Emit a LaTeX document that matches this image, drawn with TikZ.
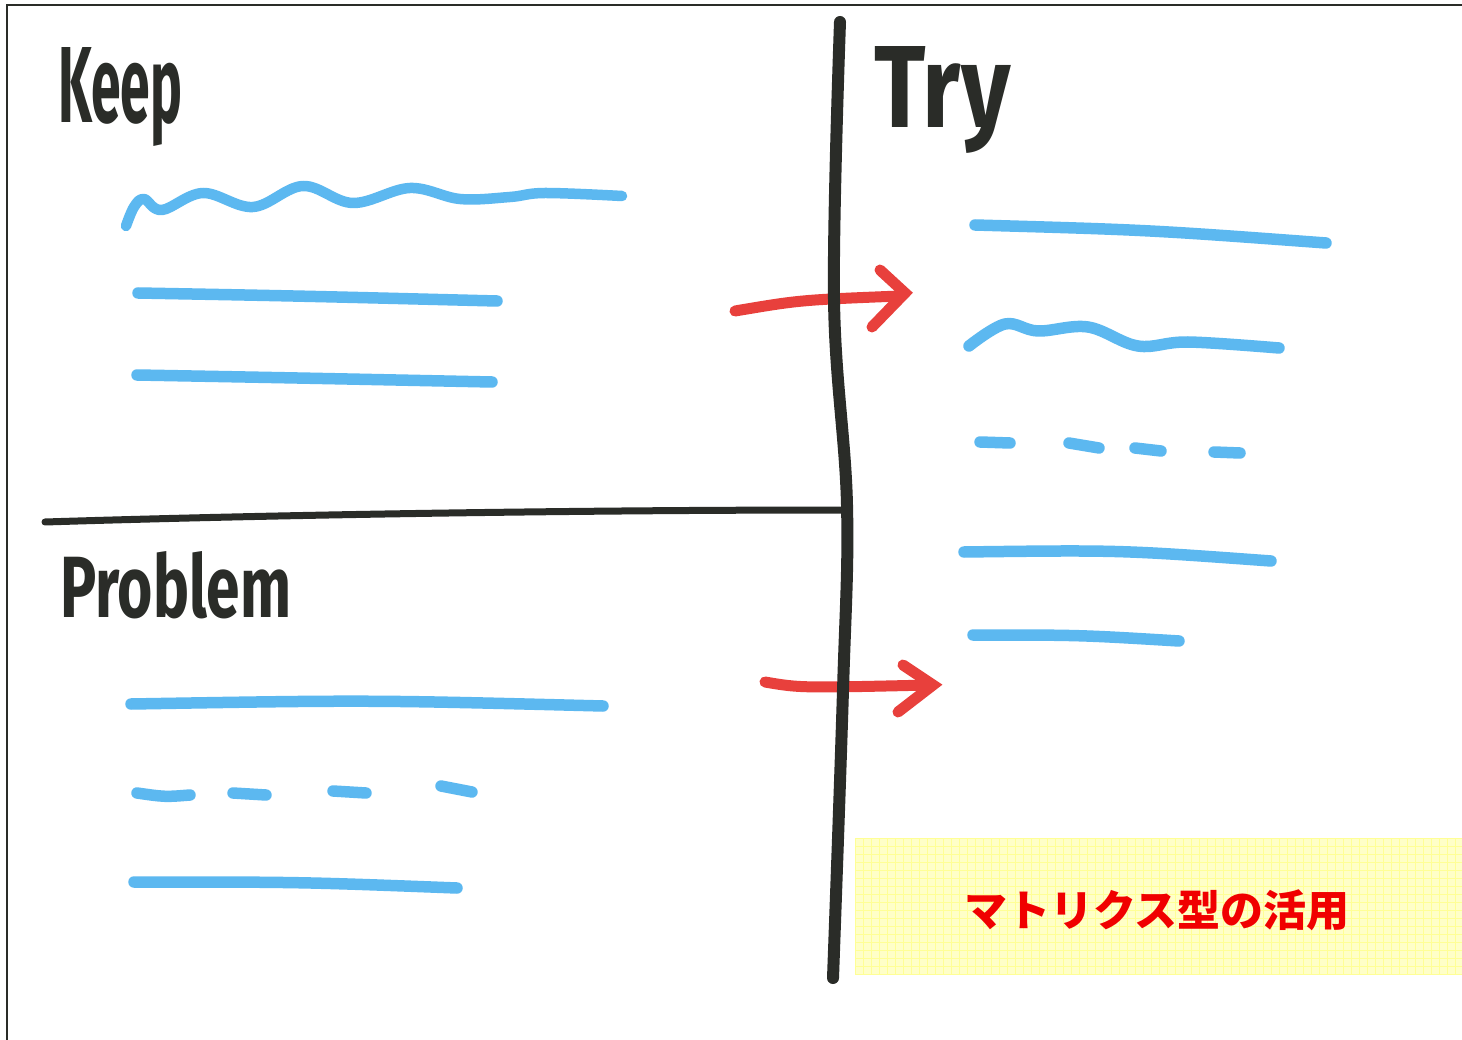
\documentclass[tikz,border=0pt]{standalone}
\usepackage{fontspec}
\usepackage{graphicx}
\newfontfamily\handfont{Fira Sans}
\newfontfamily\cjkfont{Noto Sans CJK JP}
\definecolor{ink}{RGB}{42,44,40}
\definecolor{marker}{RGB}{92,184,240}
\definecolor{redmark}{RGB}{232,64,60}
\definecolor{notefill}{RGB}{255,255,200}
\definecolor{notegrid}{RGB}{255,255,150}
\definecolor{jred}{RGB}{240,0,0}
\tikzset{
  frameline/.style={draw=ink, line width=2pt},
  divider/.style={draw=ink, line width=12pt, line cap=round, line join=round},
  hdivider/.style={draw=ink, line width=7pt, line cap=round},
  blueline/.style={draw=marker, line width=11.5pt, line cap=round, line join=round},
  bluedash/.style={draw=marker, line width=11.5pt, line cap=round},
  redarrow/.style={draw=redmark, line width=11pt, line cap=round, line join=miter},
  heading/.style={inner sep=0pt, anchor=north west, text=ink},
}
\begin{document}
\begin{tikzpicture}[x=1pt, y=-1pt]
\useasboundingbox (0,0) rectangle (1462,1040);
\fill[white] (0,0) rectangle (1462,1040);
% frame
\draw[frameline] (7,1040) -- (7,5) -- (1462,5);
% yellow note
\fill[notefill] (855,838) rectangle (1462,975);
\begin{scope}
\clip (855,838) rectangle (1462,975);
\foreach \gx in {855,863,...,1462} {\draw[notegrid, line width=0.6pt] (\gx,838) -- (\gx,975);}
\foreach \gy in {838,846,...,975} {\draw[notegrid, line width=0.6pt] (855,\gy) -- (1462,\gy);}
\end{scope}
\node[text=jred, inner sep=0pt] (note) at (1157,910) {\cjkfont\bfseries\fontsize{43}{43}\selectfont マトリクス型の活用};
% headings
\node[heading] (keep) at (58,47) {\resizebox{124pt}{75pt}{\handfont\bfseries Keep}};
\node[heading] (try) at (874,46) {\resizebox{136pt}{81pt}{\handfont\bfseries Try}};
\node[heading] (problem) at (60,551) {\resizebox{231pt}{66pt}{\handfont\bfseries Problem}};
% red arrows (under the black divider)
\draw[redarrow] (735,311) .. controls (800,300) .. (900,296);
\draw[redarrow] (880,270) -- (905,293) -- (872,327);
\draw[redarrow] (765,682) .. controls (800,688) .. (930,685);
\draw[redarrow] (903,665) -- (933,685) -- (898,712);
% dividers
\draw[hdivider] (45,522) .. controls (300,514) and (600,510) .. (845,510);
\draw[divider] plot[smooth, tension=0.6] coordinates {(840,22) (834,300) (847,505) (843,690) (833,978)};
% Keep items
\draw[blueline, line width=10.5pt] plot[smooth, tension=0.6] coordinates {(126,226) (134,207) (144,199) (162,210) (203,193) (253,207) (303,186) (353,203) (410,188) (460,199) (510,197) (545,193) (622,196)};
\draw[blueline] (138,293) .. controls (300,296) .. (497,301);
\draw[blueline] (137,375) .. controls (300,378) .. (492,382);
% Try items
\draw[blueline] (975,225) .. controls (1150,230) .. (1326,243);
\draw[blueline] plot[smooth, tension=0.6] coordinates {(969,346) (1005,324) (1038,331) (1088,327) (1138,346) (1188,342) (1279,348)};
\draw[bluedash] (980,442) -- (1010,443);
\draw[bluedash] (1069,443) -- (1099,448);
\draw[bluedash] (1135,448) -- (1161,451);
\draw[bluedash] (1214,452) -- (1240,453);
\draw[blueline] (964,552) .. controls (1120,550) .. (1271,561);
\draw[blueline] (973,635) .. controls (1080,635) .. (1179,641);
% Problem items
\draw[blueline] (131,704) .. controls (370,700) .. (603,706);
\draw[bluedash] (137,793) .. controls (165,797) .. (190,795);
\draw[bluedash] (233,793) -- (266,795);
\draw[bluedash] (333,791) -- (366,793);
\draw[bluedash] (441,786) -- (472,792);
\draw[blueline] (134,882) .. controls (300,882) .. (457,888);
\end{tikzpicture}
\end{document}
